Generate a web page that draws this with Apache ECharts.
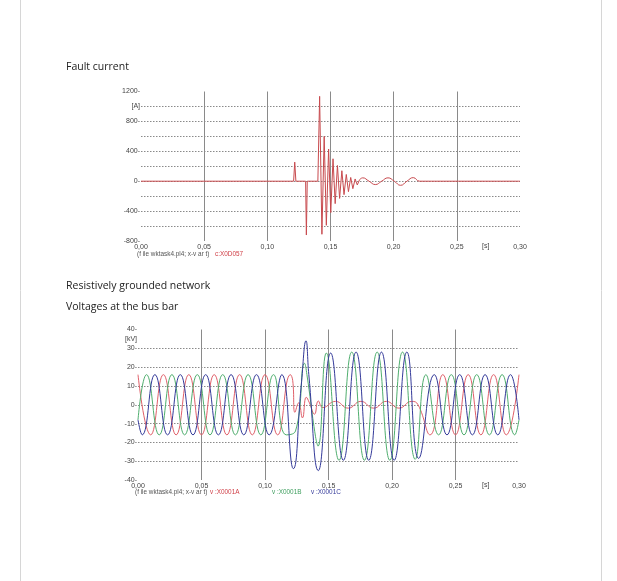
<!DOCTYPE html>
<html>
<head>
<meta charset="utf-8">
<script src="https://cdn.jsdelivr.net/npm/echarts@6/dist/echarts.min.js"></script>
<style>
html,body{margin:0;padding:0;background:#fff;}
#chart{width:617px;height:581px;}
</style>
</head>
<body>
<div id="chart"></div>
<script>
// ---------- Fault current (A) vs time (s) ----------
const currentSpikes = [
  [0,0],[0.1208,0],[0.1217,255],[0.1226,0],[0.1303,0],[0.1309,-720],[0.1316,0],
  [0.1400,0],[0.1414,1135],[0.1432,-710],[0.1450,600],[0.1467,-590],[0.1485,430],
  [0.1502,-420],[0.1520,300],[0.1537,-300],[0.1555,210],[0.1572,-230],[0.1590,140],
  [0.1607,-180],[0.1625,90],[0.1642,-140],[0.1660,50],[0.1677,-100],[0.1695,30],
  [0.1712,-50],[0.1730,20]
];
const currentTail = [
  [0.1730,20],[0.1755,45],[0.1805,0],[0.1855,-45],[0.1905,0],[0.1955,45],
  [0.2005,0],[0.2055,-55],[0.2105,0],[0.2155,48],[0.2205,0],[0.2400,0],[0.3000,0]
];
const currentTickLabels = [1200, 1000, 800, 400, 0, -400, -800];

// ---------- Bus bar voltages (kV) vs time (s) ----------
const phaseA = [
  [0,16],[0.01,-16],[0.02,16],[0.03,-16],[0.04,16],[0.05,-16],[0.06,16],[0.07,-16],
  [0.08,16],[0.09,-16],[0.10,16],[0.11,-16],[0.12,16],[0.1218,13],
  [0.1236,-4],[0.1265,1],[0.1295,-7],[0.1325,4],[0.1350,1],[0.1390,-5],[0.1420,2],
  [0.1455,-1.5],[0.1555,1.8],[0.1655,-1.8],[0.1755,1.8],[0.1855,-1.8],[0.1955,1.8],
  [0.2055,-1.8],[0.2155,1.8],[0.2205,0],
  [0.23,-16],[0.24,16],[0.25,-16],[0.26,16],[0.27,-16],[0.28,16],[0.29,-16],[0.30,16]
];
const phaseB = [
  [0,-8],[0.0067,16],[0.0167,-16],[0.0267,16],[0.0367,-16],[0.0467,16],[0.0567,-16],
  [0.0667,16],[0.0767,-16],[0.0867,16],[0.0967,-16],[0.1067,16],[0.1167,-16],
  [0.1240,-14],[0.1312,22],[0.1330,16],[0.1398,-17],[0.1418,-22],[0.1483,27.5],
  [0.1583,-29.5],[0.1683,28],[0.1783,-29.5],[0.1883,28],[0.1983,-29.5],[0.2083,28],
  [0.2183,-29],[0.2267,16],[0.2367,-16],[0.2467,16],[0.2567,-16],[0.2667,16],
  [0.2767,-16],[0.2867,16],[0.2967,-16],[0.30,-8]
];
const phaseC = [
  [0,-8],[0.0033,-16],[0.0133,16],[0.0233,-16],[0.0333,16],[0.0433,-16],[0.0533,16],
  [0.0633,-16],[0.0733,16],[0.0833,-16],[0.0933,16],[0.1033,-16],[0.1133,16],
  [0.1223,-34],[0.1285,10],[0.1323,34],[0.1345,16],[0.1420,-35],[0.1517,27.5],
  [0.1617,-29.5],[0.1717,28],[0.1817,-29.5],[0.1917,28],[0.2017,-29.5],[0.2117,28],
  [0.2210,-28.5],[0.2333,16],[0.2433,-16],[0.2533,16],[0.2633,-16],[0.2733,16],
  [0.2833,-16],[0.2933,16],[0.30,-8]
];
const voltageTickLabels = [40, 35, 30, 20, 10, 0, -10, -20, -30, -40];

const chart = echarts.init(document.getElementById('chart'), null, {renderer:'canvas'});
const FONT = 'Liberation Sans';
const axisLabelStyle = {fontSize:7, color:'#444', fontFamily:FONT};

function xAxisCfg(gi){
  return {
    gridIndex:gi, type:'value', min:0, max:0.3, interval:0.05,
    axisLine:{show:false},
    axisTick:{show:false},
    axisLabel:Object.assign({margin:3,
      formatter:v=>v.toFixed(2).replace('.',',')}, axisLabelStyle),
    splitLine:{show:true, showMinLine:false, showMaxLine:false,
      lineStyle:{color:'#8a8a8a', width:1, type:'solid'}}
  };
}
function yAxisCfg(gi, min, max, interval, labels, unitVal, unitText){
  return {
    gridIndex:gi, type:'value', min:min, max:max, interval:interval,
    axisLine:{show:false},
    axisTick:{show:false},
    axisLabel:Object.assign({margin:1, customValues:labels,
      formatter:v=> (v===unitVal ? unitText : String(v) + '-')}, axisLabelStyle),
    splitLine:{show:true, showMinLine:false, showMaxLine:false,
      lineStyle:{color:'#8a8a8a', width:1, type:[1.5,1.5]}}
  };
}

const lineSeries = (name, data, color, gi, smooth) => ({
  name, type:'line', data, xAxisIndex:gi, yAxisIndex:gi,
  showSymbol:false, smooth:smooth,
  lineStyle:{color, width:1}, itemStyle:{color}, animation:false, z:5
});

const text = (x, y, t, opts) => ({
  type:'text', left:x, top:y,
  style:Object.assign({text:t, fill:'#222', font:'10.5px "Open Sans"'}, opts||{})
});
const cap = '6.4px "Liberation Sans"';

chart.setOption({
  backgroundColor:'#ffffff',
  animation:false,
  grid:[
    {left:141, right:97, top:91.5, height:149.5},
    {left:138, right:98, top:329.5, height:150.5}
  ],
  xAxis:[xAxisCfg(0), xAxisCfg(1)],
  yAxis:[
    yAxisCfg(0, -800, 1200, 200, currentTickLabels, 1000, '[A]'),
    yAxisCfg(1, -40, 40, 10, voltageTickLabels, 35, '[kV]')
  ],
  series:[
    lineSeries('c:X0D057', currentSpikes, '#c84a4e', 0, false),
    lineSeries('c:X0D057 tail', currentTail, '#c84a4e', 0, 0.5),
    lineSeries('v:X0001A', phaseA, '#e0606a', 1, 0.5),
    lineSeries('v:X0001B', phaseB, '#4fae6e', 1, 0.5),
    lineSeries('v:X0001C', phaseC, '#343a9a', 1, 0.5)
  ],
  graphic:[
    {type:'line', shape:{x1:20.5,y1:0,x2:20.5,y2:581}, style:{stroke:'#d6d6d6', lineWidth:1}},
    {type:'line', shape:{x1:601.5,y1:0,x2:601.5,y2:581}, style:{stroke:'#d6d6d6', lineWidth:1}},
    text(66, 61.5, 'Fault current'),
    text(66, 281, 'Resistively grounded network'),
    text(66, 301.5, 'Voltages at the bus bar'),
    text(482, 243, '[s]', {font:'7px "Liberation Sans"', fill:'#444'}),
    text(482, 481.5, '[s]', {font:'7px "Liberation Sans"', fill:'#444'}),
    text(137, 251, '(f ile wktask4.pl4; x-v ar t)', {font:cap, fill:'#555'}),
    text(215, 251, 'c:X0D057', {font:cap, fill:'#d04048'}),
    text(135, 489.5, '(f ile wktask4.pl4; x-v ar t)', {font:cap, fill:'#555'}),
    text(210, 489.5, 'v :X0001A', {font:cap, fill:'#d04048'}),
    text(272, 489.5, 'v :X0001B', {font:cap, fill:'#3e9e5e'}),
    text(311, 489.5, 'v :X0001C', {font:cap, fill:'#343a9a'})
  ]
});
</script>
</body>
</html>
